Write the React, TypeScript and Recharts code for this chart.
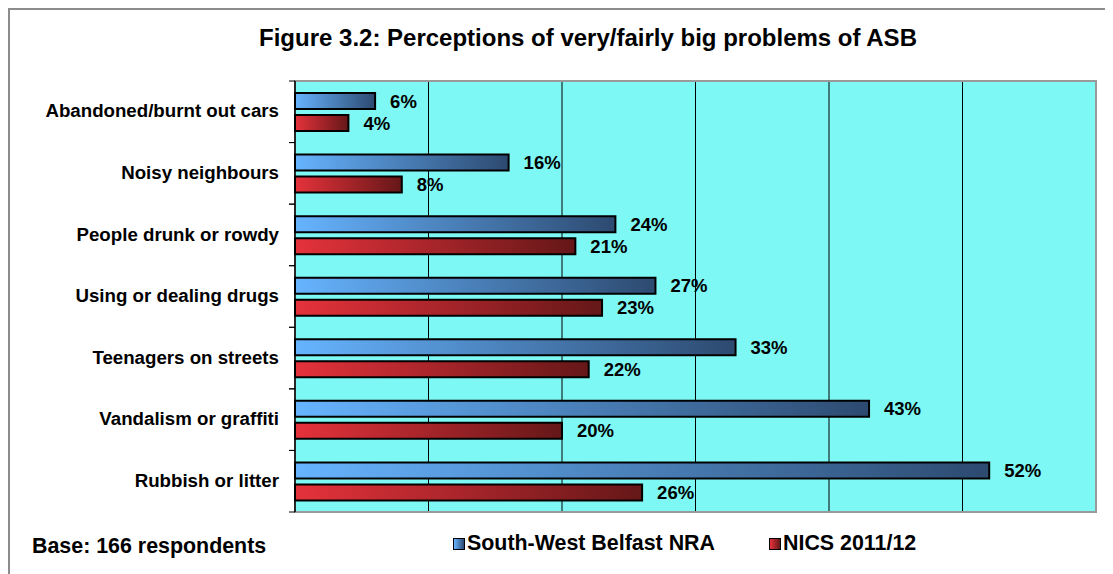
import React from "react";
import {
  BarChart,
  Bar,
  XAxis,
  YAxis,
  CartesianGrid,
  LabelList,
  ReferenceArea,
  ReferenceLine,
} from "recharts";

const categories = [
  "Abandoned/burnt out cars",
  "Noisy neighbours",
  "People drunk or rowdy",
  "Using or dealing drugs",
  "Teenagers on streets",
  "Vandalism or graffiti",
  "Rubbish or litter",
];
const southWest = [6, 16, 24, 27, 33, 43, 52];
const nics = [4, 8, 21, 23, 22, 20, 26];
const xTicks = [0, 10, 20, 30, 40, 50, 60];

const FONT = '"Liberation Sans", Arial, sans-serif';

const data = categories.map((name, i) => ({
  name,
  sw: southWest[i],
  nics: nics[i],
}));

const pct = (v: any) => `${v}%`;

// category label plus the small tick marks at the band boundaries
function CatTick(props: any) {
  const { x, y, payload } = props;
  const half = payload.offset || 0;
  const ax = x + 16;
  return (
    <g>
      <line x1={ax - 6} x2={ax} y1={y - half} y2={y - half} stroke="#000" />
      <line x1={ax - 6} x2={ax} y1={y + half} y2={y + half} stroke="#000" />
      <text
        x={x}
        y={y}
        dy="0.3em"
        textAnchor="end"
        fill="#000"
        fontSize={18.7}
        fontWeight="bold"
        fontFamily={FONT}
      >
        {payload.value}
      </text>
    </g>
  );
}

export default function App() {
  return (
    <div
      style={{
        position: "relative",
        width: 1105,
        height: 566,
        boxSizing: "border-box",
        borderTop: "2px solid #8c8c8c",
        borderLeft: "2px solid #8c8c8c",
        fontFamily: FONT,
      }}
    >
      <div style={{ position: "absolute", left: -10, top: -10 }}>
        <div
          style={{
            position: "absolute",
            left: 0,
            top: 24,
            width: 1176,
            textAlign: "center",
            fontSize: 24,
            fontWeight: "bold",
            zIndex: 2,
          }}
        >
          Figure 3.2: Perceptions of very/fairly big problems of ASB
        </div>
        <BarChart
          width={1113}
          height={574}
          data={data}
          layout="vertical"
          margin={{ top: 81, right: 17, bottom: 62, left: 0 }}
          barSize={16}
          barGap={6}
        >
          <defs>
            <linearGradient id="blueGrad" x1="0" y1="0" x2="1" y2="0">
              <stop offset="0%" stopColor="#66b4ff" />
              <stop offset="100%" stopColor="#2d4a70" />
            </linearGradient>
            <linearGradient id="redGrad" x1="0" y1="0" x2="1" y2="0">
              <stop offset="0%" stopColor="#e5323b" />
              <stop offset="100%" stopColor="#651718" />
            </linearGradient>
          </defs>
          <CartesianGrid
            horizontal={false}
            vertical={true}
            stroke="#000"
            strokeWidth={1}
            fill="#7ef8f4"
            fillOpacity={1}
          />
          <XAxis type="number" domain={[0, 60]} ticks={xTicks} hide />
          <YAxis
            type="category"
            dataKey="name"
            width={295}
            tickLine={false}
            axisLine={false}
            tickSize={0}
            tickMargin={16}
            tick={<CatTick />}
          />
          <ReferenceArea
            x1={0}
            x2={60}
            fill="none"
            stroke="#9a9a9a"
            strokeWidth={2}
          />
          <ReferenceLine x={0} stroke="#000" strokeWidth={1.5} />
          <Bar
            dataKey="sw"
            fill="url(#blueGrad)"
            stroke="#000"
            strokeWidth={2}
            isAnimationActive={false}
          >
            <LabelList
              dataKey="sw"
              position="right"
              offset={15}
              formatter={pct}
              style={{ fill: "#000", fontSize: 18.5, fontWeight: "bold", fontFamily: FONT }}
            />
          </Bar>
          <Bar
            dataKey="nics"
            fill="url(#redGrad)"
            stroke="#000"
            strokeWidth={2}
            isAnimationActive={false}
          >
            <LabelList
              dataKey="nics"
              position="right"
              offset={15}
              formatter={pct}
              style={{ fill: "#000", fontSize: 18.5, fontWeight: "bold", fontFamily: FONT }}
            />
          </Bar>
        </BarChart>
        <div
          style={{
            position: "absolute",
            left: 32,
            top: 534,
            fontSize: 21.4,
            fontWeight: "bold",
          }}
        >
          Base: 166 respondents
        </div>
        <div
          style={{
            position: "absolute",
            left: 453,
            top: 531,
            display: "flex",
            alignItems: "center",
            fontSize: 21.4,
            fontWeight: "bold",
          }}
        >
          <span
            style={{
              display: "inline-block",
              width: 10,
              height: 10,
              border: "1.5px solid #000",
              background: "linear-gradient(to right, #66b4ff, #2d4a70)",
              marginRight: 2,
            }}
          />
          <span style={{ marginRight: 54 }}>South-West Belfast NRA</span>
          <span
            style={{
              display: "inline-block",
              width: 10,
              height: 10,
              border: "1.5px solid #000",
              background: "linear-gradient(to right, #e5323b, #651718)",
              marginRight: 2,
            }}
          />
          <span>NICS 2011/12</span>
        </div>
      </div>
    </div>
  );
}
